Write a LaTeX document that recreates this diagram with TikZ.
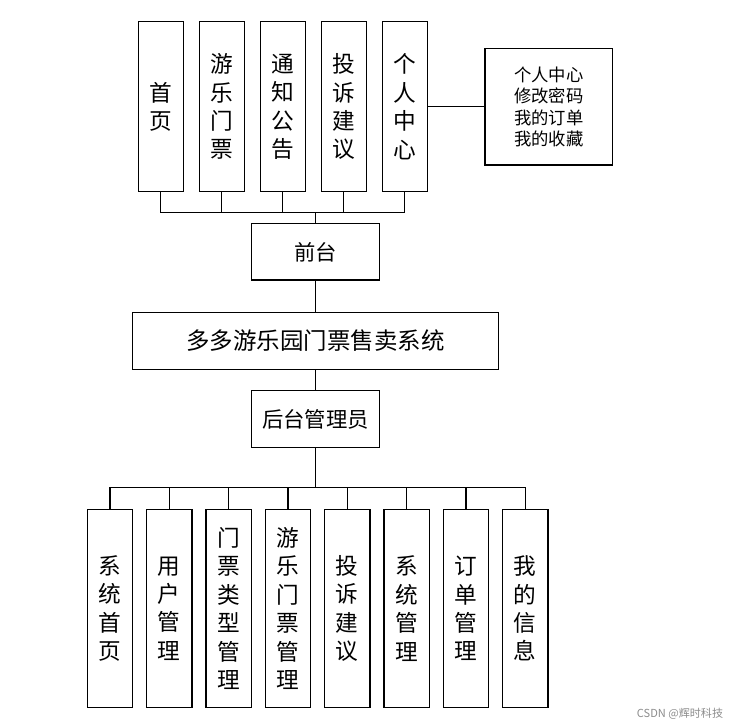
\documentclass[tikz,border=0pt]{standalone}
\usepackage{fontspec}
\newfontfamily\cjk{Noto Sans CJK SC}
\usepackage{tikz}
\usetikzlibrary{positioning}

\begin{document}
\begin{tikzpicture}[x=0.75pt,y=-0.75pt,
  box/.style={draw,line width=0.9pt,inner sep=0pt,align=center,font=\cjk\fontsize{16}{16}\selectfont},
  colbox/.style={box,minimum width=33.75pt,font=\cjk\fontsize{17}{21.3}\selectfont},
  link/.style={line width=0.8pt},
  stem/.style={line width=1.4pt}]
\useasboundingbox (0,0) rectangle (739,727);

% Front end (five columns)
\foreach \i/\x/\t in {1/160.8/首\\页, 2/221.8/游\\乐\\门\\票, 3/282.8/通\\知\\公\\告,
                      4/343.8/投\\诉\\建\\议, 5/404.8/个\\人\\中\\心} {
    \node[colbox,minimum height=127.5pt] (qt\i) at (\x,106.7) {\t};
}

% Personal centre sub-items
\node[box,minimum width=95.8pt,minimum height=87.5pt,font=\cjk\fontsize{13}{16.1}\selectfont]
    (grzx) at (548.8,106.7) {个人中心\\修改密码\\我的订单\\我的收藏};

% Centre column
\node[box,minimum width=95.7pt,minimum height=42.2pt] (qd) at (315.5,251.9) {前台};
\node[box,minimum width=274.2pt,minimum height=42.5pt,font=\cjk\fontsize{17.6}{17.6}\selectfont]
    (sys) at (315.5,341) {多多游乐园门票售卖系统};
\node[box,minimum width=95.5pt,minimum height=42.5pt] (admin) at (315.5,419) {后台管理员};

% Back end (eight columns)
\foreach \i/\x/\t in {1/110.0/系\\统\\首\\页, 2/169.3/用\\户\\管\\理, 3/228.7/门\\票\\类\\型\\管\\理,
                      4/288.0/游\\乐\\门\\票\\管\\理, 5/347.3/投\\诉\\建\\议, 6/406.7/系\\统\\管\\理,
                      7/466.0/订\\单\\管\\理, 8/525.3/我\\的\\信\\息} {
    \node[colbox,minimum width=34pt,minimum height=148.8pt] (ht\i) at (\x,608.5) {\t};
}

% Bus lines
\coordinate (topbus) at (315.5,212.7);
\coordinate (botbus) at (315.5,487.7);
\foreach \i in {1,...,5} {
    \draw[link] (qt\i.south) |- (topbus);
}
\foreach \i in {1,...,8} {
    \draw[link] (ht\i.north) |- (botbus);
}
\draw[stem] (topbus) -- (qd.north);
\draw[link] (qt5.east) -- (grzx.west);
\draw[link] (qd.south) -- (sys.north);
\draw[link] (sys.south) -- (admin.north);
\draw[stem] (admin.south) -- (botbus);

% Watermark
\node[text=black!45,font=\cjk\fontsize{8.3}{8.3}\selectfont] (mark) at (680,714) {CSDN @辉时科技};
\end{tikzpicture}
\end{document}
